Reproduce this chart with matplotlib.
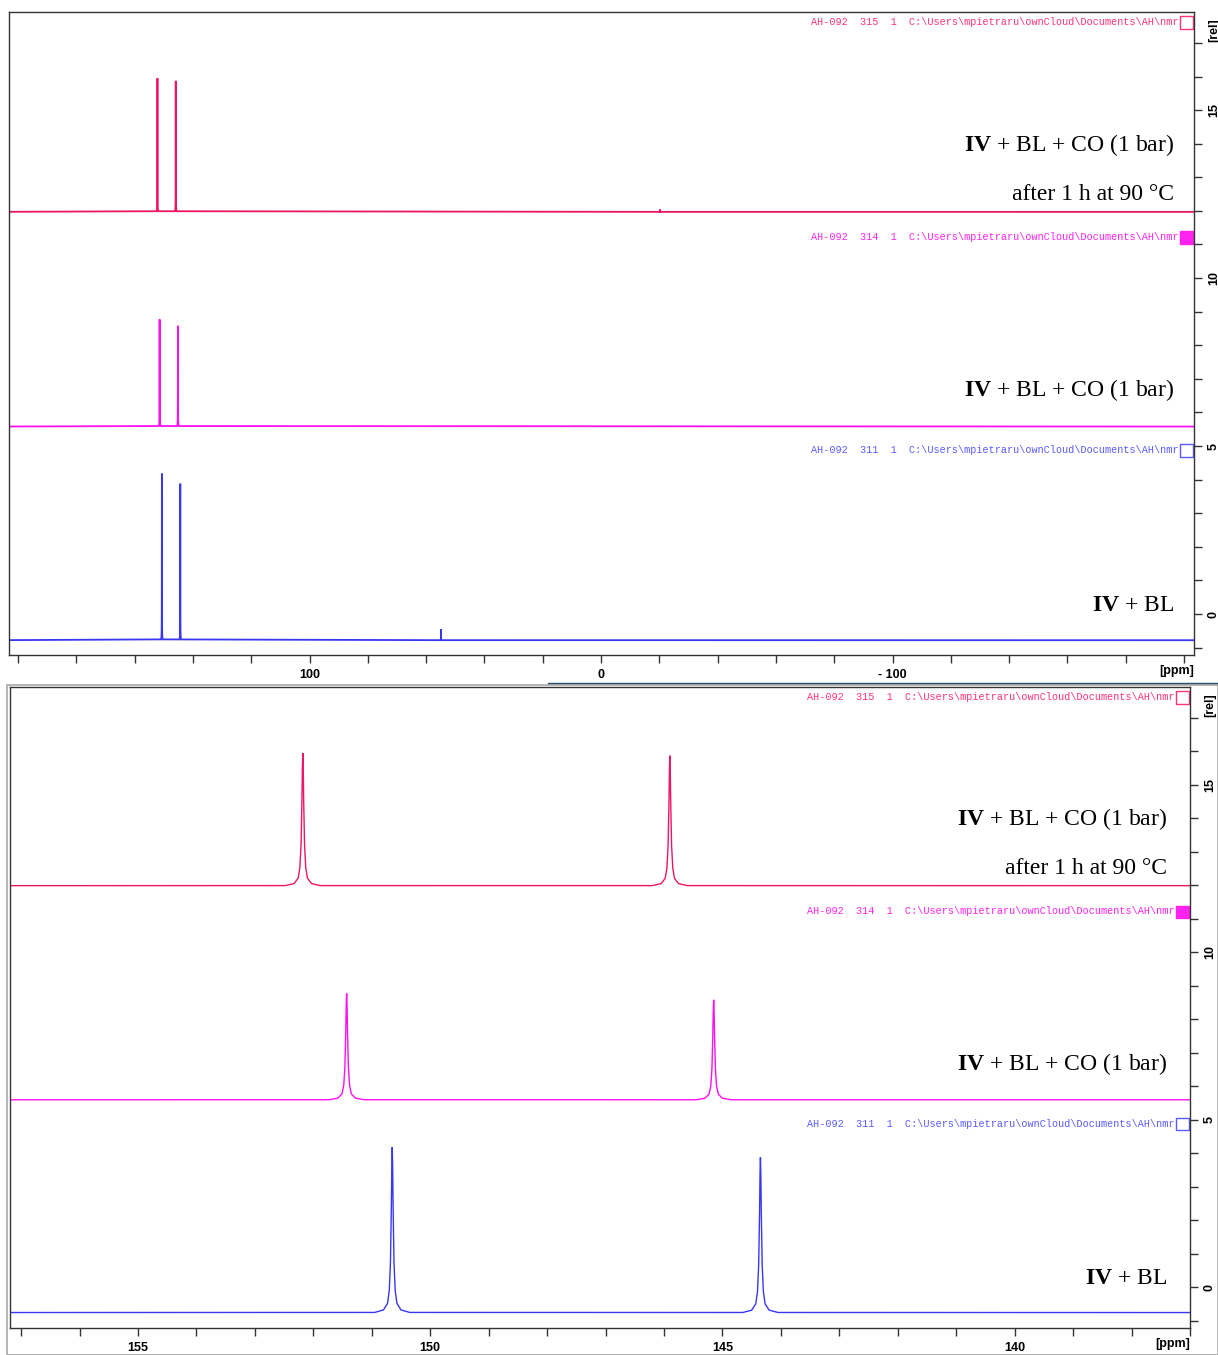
import matplotlib
matplotlib.use("Agg")
import matplotlib.pyplot as plt
from matplotlib.patches import Rectangle
from matplotlib.lines import Line2D
from matplotlib.transforms import blended_transform_factory

plt.rcParams['mathtext.fontset'] = 'custom'
plt.rcParams['mathtext.rm'] = 'Liberation Serif'
plt.rcParams['mathtext.bf'] = 'Liberation Serif:bold'

# spectra (ppm of peaks, top intensity, baseline level)
red_peaks = [152.18, 145.90, -20.2]
red_tops = [15.95, 15.87, 12.04]
red_base = 11.97

mag_peaks = [151.43, 145.15]
mag_tops = [8.77, 8.58]
mag_base = 5.58

blue_peaks = [150.65, 144.35, 54.9]
blue_tops = [4.18, 3.88, -0.45]
blue_base = -0.78

# line shape (ppm offset, fraction of height)
shape_off = [-0.30, -0.15, -0.08, -0.05, -0.03, -0.015, -0.007, 0.0,
             0.007, 0.015, 0.03, 0.05, 0.08, 0.15, 0.30]
shape_frac = [0.005, 0.02, 0.06, 0.14, 0.31, 0.64, 0.89, 1.0,
              0.89, 0.64, 0.31, 0.14, 0.06, 0.02, 0.005]

labels = [r"$\mathbf{IV}$ + BL + CO (1 bar)", "after 1 h at 90 °C",
          r"$\mathbf{IV}$ + BL + CO (1 bar)", r"$\mathbf{IV}$ + BL"]
label_y = [13.97, 12.5, 6.66, 0.26]

titles = ["AH-092  315  1  C:\\Users\\mpietraru\\ownCloud\\Documents\\AH\\nmr",
          "AH-092  314  1  C:\\Users\\mpietraru\\ownCloud\\Documents\\AH\\nmr",
          "AH-092  311  1  C:\\Users\\mpietraru\\ownCloud\\Documents\\AH\\nmr"]
title_y = [17.62, 11.22, 4.88]

red = '#EE1565'
mag = '#FF10F0'
blue = '#3838F0'
colors = [red, mag, blue]
title_colors = ['#FF3377', '#FF22EE', '#5A5AFF']


def trace(peaks, tops, base):
    pts = [(210.0, base), (-210.0, base)]
    for p, t in zip(peaks, tops):
        for o, f in zip(shape_off, shape_frac):
            pts.append((p + o, base + (t - base) * f))
    pts.sort(key=lambda a: -a[0])
    return [a[0] for a in pts], [a[1] for a in pts]


spectra = [trace(red_peaks, red_tops, red_base),
           trace(mag_peaks, mag_tops, mag_base),
           trace(blue_peaks, blue_tops, blue_base)]

fig = plt.figure(figsize=(12.18, 13.55), dpi=100)

panels = [
    dict(rect=[9/1218, 1-655/1355, 1185/1218, 643/1355], xlim=(203.1, -203.4),
         major=[100, 0, -100], minor=list(range(-200, 201, 20)), lw=1.3, lab_x=0.983),
    dict(rect=[10/1218, 1-1328/1355, 1180/1218, 641/1355], xlim=(157.19, 137.07),
         major=[155, 150, 145, 140], minor=list(range(137, 158)), lw=1.0, lab_x=0.9805),
]

for pan in panels:
    ax = fig.add_axes(pan['rect'])
    for (x, y), c in zip(spectra, colors):
        ax.plot(x, y, color=c, lw=pan['lw'], solid_joinstyle='miter')
    ax.set_xlim(*pan['xlim'])
    ax.set_ylim(-1.22, 17.92)

    ax.set_xticks(pan['major'])
    ax.set_xticks(pan['minor'], minor=True)
    ax.set_xticklabels([str(v).replace('-', '- ') for v in pan['major']])
    ax.tick_params(axis='x', which='both', direction='out', length=6, width=1,
                   color='#333333', pad=4)
    for t in ax.get_xticklabels():
        t.set_fontfamily('Liberation Sans')
        t.set_fontweight('bold')
        t.set_fontsize(9)

    ax.yaxis.tick_right()
    ax.set_yticks([0, 5, 10, 15])
    ax.set_yticks(list(range(-1, 18)), minor=True)
    ax.tick_params(axis='y', which='both', direction='out', length=6, width=1,
                   color='#333333', pad=4)
    for t in ax.get_yticklabels():
        t.set_fontfamily('Liberation Sans')
        t.set_fontweight('bold')
        t.set_fontsize(9)
        t.set_rotation(90)
        t.set_verticalalignment('center')

    for s in ax.spines.values():
        s.set_color('#333333')
        s.set_linewidth(1)

    ax.text(1.0, -0.025, "[ppm]", transform=ax.transAxes, ha='right', va='center',
            fontsize=9, fontweight='bold', family='Liberation Sans')
    ax.text(1.012, 0.99, "[rel]", transform=ax.transAxes, ha='left', va='top',
            fontsize=9, fontweight='bold', family='Liberation Sans', rotation=90)

    trans = blended_transform_factory(ax.transAxes, ax.transData)
    for txt, ty, tc, filled in zip(titles, title_y, title_colors, [False, True, False]):
        ax.text(0.9865, ty, txt, transform=trans, ha='right', va='center',
                fontsize=7.3, family='Liberation Mono', color=tc)
        ax.add_patch(Rectangle((0.9885, ty - 0.2), 0.0105, 0.37, transform=trans,
                               facecolor=tc if filled else 'none', edgecolor=tc,
                               lw=1, clip_on=False))

    for txt, ly in zip(labels, label_y):
        ax.text(pan['lab_x'], ly, txt, transform=trans, ha='right', va='center',
                fontsize=17, family='Liberation Serif', color='black')

# window frame lines of the screenshot
fig.add_artist(Line2D([548/1218, 1.0], [1-683/1355, 1-683/1355], color='#2a4d70', lw=1))
fig.add_artist(Rectangle((7/1218, 0), 1 - 7/1218, 1-685/1355, fill=False,
                         edgecolor='#a8a8a8', lw=1.2, transform=fig.transFigure))

fig.savefig('out.png', dpi=100)
